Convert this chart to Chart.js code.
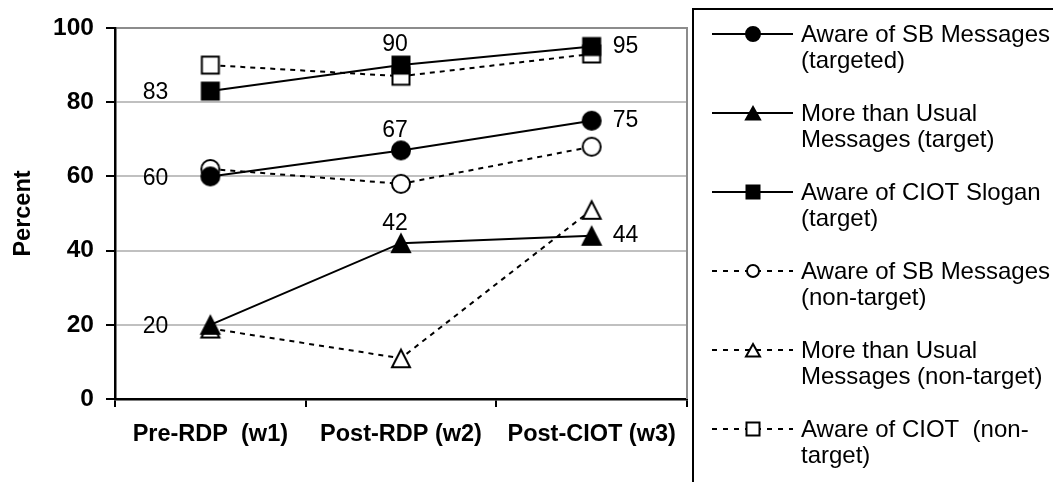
<!DOCTYPE html>
<html>
<head>
<meta charset="utf-8">
<script src="https://cdn.jsdelivr.net/npm/chart.js@4.4.1/dist/chart.umd.min.js"></script>
<style>
  html, body { margin: 0; padding: 0; background: #fff; }
  canvas { display: block; }
</style>
</head>
<body>
<canvas id="chart" width="1053" height="482"></canvas>
<script>
// categories and axis ticks
const waves = ['Pre-RDP  (w1)', 'Post-RDP (w2)', 'Post-CIOT (w3)'];
const yTicks = [0, 20, 40, 60, 80, 100];

// percent values
const sbTargeted = [60, 67, 75];
const moreTarget = [20, 42, 44];
const ciotTarget = [83, 90, 95];
const sbNonTarget = [62, 58, 68];
const moreNonTarget = [19, 11, 51];
const ciotNonTarget = [90, 87, 93];

const seriesNames = [
    ['Aware of SB Messages', '(targeted)'],
    ['More than Usual', 'Messages (target)'],
    ['Aware of CIOT Slogan', '(target)'],
    ['Aware of SB Messages', '(non-target)'],
    ['More than Usual', 'Messages (non-target)'],
    ['Aware of CIOT  (non-', 'target)']
];

const FONT = '"Liberation Sans", Arial, sans-serif';
Chart.defaults.font.family = FONT;
Chart.defaults.color = '#000';

// markers drawn into small canvases so they sit centred like Excel's
function marker(shape, w, h, filled) {
    const c = document.createElement('canvas');
    c.width = 24; c.height = 24;
    const g = c.getContext('2d');
    const cx = 12, cy = 12;
    g.beginPath();
    if (shape === 'circle') {
        g.arc(cx, cy, w / 2 - 1, 0, Math.PI * 2);
    } else if (shape === 'rect') {
        g.rect(cx - w / 2 + 1, cy - h / 2 + 1, w - 2, h - 2);
    } else {
        g.moveTo(cx, cy - h / 2 + 1.5);
        g.lineTo(cx + w / 2 - 1, cy + h / 2 - 1);
        g.lineTo(cx - w / 2 + 1, cy + h / 2 - 1);
        g.closePath();
    }
    g.fillStyle = filled ? '#000' : '#fff';
    g.fill();
    g.lineWidth = 2;
    g.strokeStyle = '#000';
    g.stroke();
    return c;
}

const shapes = ['circle', 'triangle', 'rect', 'circle', 'triangle', 'rect'];
const seriesData = [sbTargeted, moreTarget, ciotTarget, sbNonTarget, moreNonTarget, ciotNonTarget];

function bigMarker(i) {
    const s = shapes[i], filled = i < 3;
    if (s === 'circle') return marker(s, 20, 20, filled);
    if (s === 'triangle') return marker(s, 20, 20, filled);
    return marker(s, 19, 19, filled);
}
function smallMarker(i) {
    const s = shapes[i], filled = i < 3;
    if (s === 'circle') return marker(s, filled ? 16 : 14, filled ? 16 : 14, filled);
    if (s === 'triangle') return marker(s, 16, 15, filled);
    return marker(s, 15, 15, filled);
}

const datasets = seriesData.map((d, i) => ({
    label: seriesNames[i].join(' '),
    data: d,
    borderColor: '#000',
    backgroundColor: '#000',
    borderWidth: 2,
    borderDash: i < 3 ? [] : [5, 5],
    pointStyle: bigMarker(i),
    pointRadius: 10,
    tension: 0,
    clip: false
}));

// gray right edge of the plot area
const plotFrame = {
    id: 'plotFrame',
    beforeDatasetsDraw(chart) {
        const { ctx, chartArea: a } = chart;
        ctx.save();
        ctx.strokeStyle = '#8c8c8c';
        ctx.lineWidth = 2;
        ctx.beginPath();
        ctx.moveTo(a.right, a.top - 1);
        ctx.lineTo(a.right, a.bottom);
        ctx.stroke();
        ctx.restore();
    }
};

// value labels on the targeted series: left / above / right
const valueLabels = {
    id: 'valueLabels',
    afterDatasetsDraw(chart) {
        const ctx = chart.ctx;
        ctx.save();
        ctx.font = '23px ' + FONT;
        ctx.fillStyle = '#000';
        ctx.textBaseline = 'middle';
        for (let i = 0; i < 3; i++) {
            const meta = chart.getDatasetMeta(i);
            meta.data.forEach((pt, j) => {
                const txt = String(chart.data.datasets[i].data[j]);
                if (j === 0) {
                    ctx.textAlign = 'right';
                    ctx.fillText(txt, pt.x - 42, pt.y + 2);
                } else if (j === 1) {
                    ctx.textAlign = 'center';
                    ctx.fillText(txt, pt.x - 6, pt.y - 20);
                } else {
                    ctx.textAlign = 'left';
                    ctx.fillText(txt, pt.x + 21, pt.y);
                }
            });
        }
        ctx.restore();
    }
};

// boxed legend on the right
const boxLegend = {
    id: 'boxLegend',
    afterDraw(chart) {
        const ctx = chart.ctx;
        ctx.save();
        ctx.strokeStyle = '#000';
        ctx.lineWidth = 2;
        ctx.strokeRect(693, 9, 500, 600);
        ctx.font = '24px ' + FONT;
        ctx.fillStyle = '#000';
        ctx.textBaseline = 'middle';
        ctx.textAlign = 'left';
        seriesNames.forEach((lines, i) => {
            const y = 34 + i * 79;
            ctx.beginPath();
            ctx.setLineDash(i < 3 ? [] : [5, 6]);
            ctx.lineWidth = 2;
            ctx.moveTo(712, y);
            ctx.lineTo(793, y);
            ctx.stroke();
            ctx.setLineDash([]);
            const m = smallMarker(i);
            ctx.drawImage(m, 753 - m.width / 2, y - m.height / 2);
            lines.forEach((t, k) => ctx.fillText(t, 801, y + 1 + k * 26));
        });
        ctx.restore();
    }
};

new Chart(document.getElementById('chart'), {
    type: 'line',
    data: { labels: waves, datasets: datasets },
    options: {
        responsive: false,
        animation: false,
        layout: { padding: { top: 28, right: 366, left: 0, bottom: 0 } },
        plugins: { legend: { display: false }, tooltip: { enabled: false } },
        scales: {
            x: {
                offset: true,
                grid: { offset: true, drawOnChartArea: false, color: '#000', lineWidth: 2, tickLength: 8 },
                border: { color: '#000', width: 2.5 },
                ticks: { font: { size: 23.5, weight: 'bold' }, color: '#000', padding: 13, maxRotation: 0, autoSkip: false },
                afterFit: s => { s.height = 83; }
            },
            y: {
                min: 0,
                max: 100,
                afterBuildTicks: s => { s.ticks = yTicks.map(v => ({ value: v })); },
                grid: {
                    color: c => c.tick.value === 0 ? 'rgba(0,0,0,0)' : (c.tick.value === 100 ? '#8c8c8c' : '#c0c0c0'),
                    lineWidth: 2,
                    tickColor: '#000',
                    tickLength: 9
                },
                border: { color: '#000', width: 2.5 },
                ticks: { font: { size: 24.5, weight: 'bold' }, color: '#000', padding: 12 },
                title: { display: true, text: 'Percent', font: { size: 23.5, weight: 'bold' }, color: '#000', padding: { top: 9, bottom: 0 } },
                afterFit: s => { s.width = 115; }
            }
        }
    },
    plugins: [plotFrame, valueLabels, boxLegend]
});
</script>
</body>
</html>
